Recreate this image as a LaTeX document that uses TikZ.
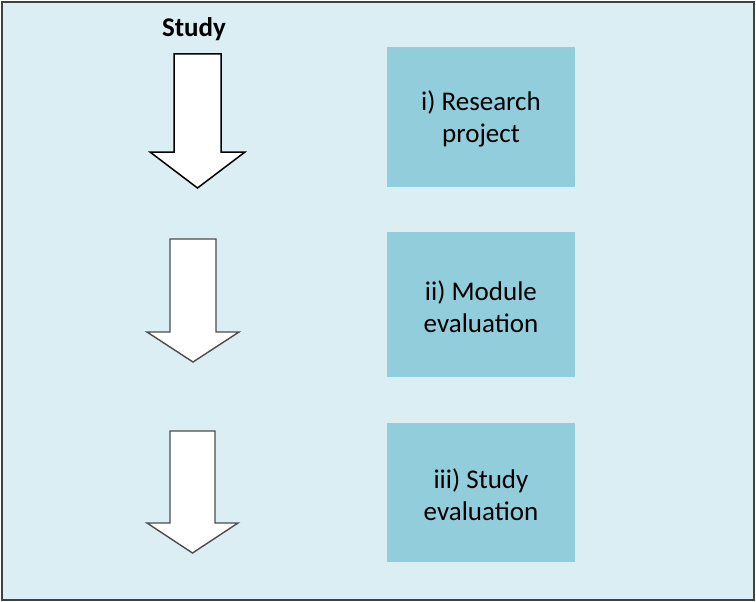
\documentclass[tikz,border=0pt]{standalone}
\usepackage{fontspec}
\setmainfont{Carlito}
\begin{document}
\begin{tikzpicture}[x=1pt,y=-1pt,
  frame/.style={draw=black!75,line width=2pt,fill=bgblue},
  box/.style={fill=boxblue,minimum width=188pt,inner sep=0pt,align=center},
  boxtext/.style={align=center,inner sep=0pt,font=\fontsize{27}{32}\selectfont},
  bigarrow/.style={draw=black,line width=1.5pt,fill=white,line join=miter},
  smallarrow/.style={draw=black!70,line width=1.4pt,fill=white,line join=miter}]
\definecolor{bgblue}{HTML}{DAEEF3}
\definecolor{boxblue}{HTML}{92CDDC}
\useasboundingbox (0,0) rectangle (756,602);
\draw[frame] (2,2) rectangle (754,600);
\node[font=\bfseries\fontsize{27}{32}\selectfont] (study) at (194,29) {Study};
\draw[bigarrow] (174,54) -- (221,54) -- (221,152) -- (245,152) -- (197.5,188) -- (150,152) -- (174,152) -- cycle;
\draw[smallarrow] (170,239) -- (216,239) -- (216,332) -- (239,332) -- (193,362) -- (147,332) -- (170,332) -- cycle;
\draw[smallarrow] (170,431) -- (215,431) -- (215,523) -- (238,523) -- (192.5,553) -- (147,523) -- (170,523) -- cycle;
\node[box,minimum height=140pt] (b1) at (481,117) {};
\node[box,minimum height=145pt] (b2) at (481,304.5) {};
\node[box,minimum height=139pt] (b3) at (481,492.5) {};
\node[boxtext] (t1) at ([yshift=-2pt]b1.center) {i) Research\\project};
\node[boxtext] (t2) at ([yshift=-2pt]b2.center) {ii) Module\\evaluation};
\node[boxtext] (t3) at ([yshift=-2pt]b3.center) {iii) Study\\evaluation};
\end{tikzpicture}
\end{document}
